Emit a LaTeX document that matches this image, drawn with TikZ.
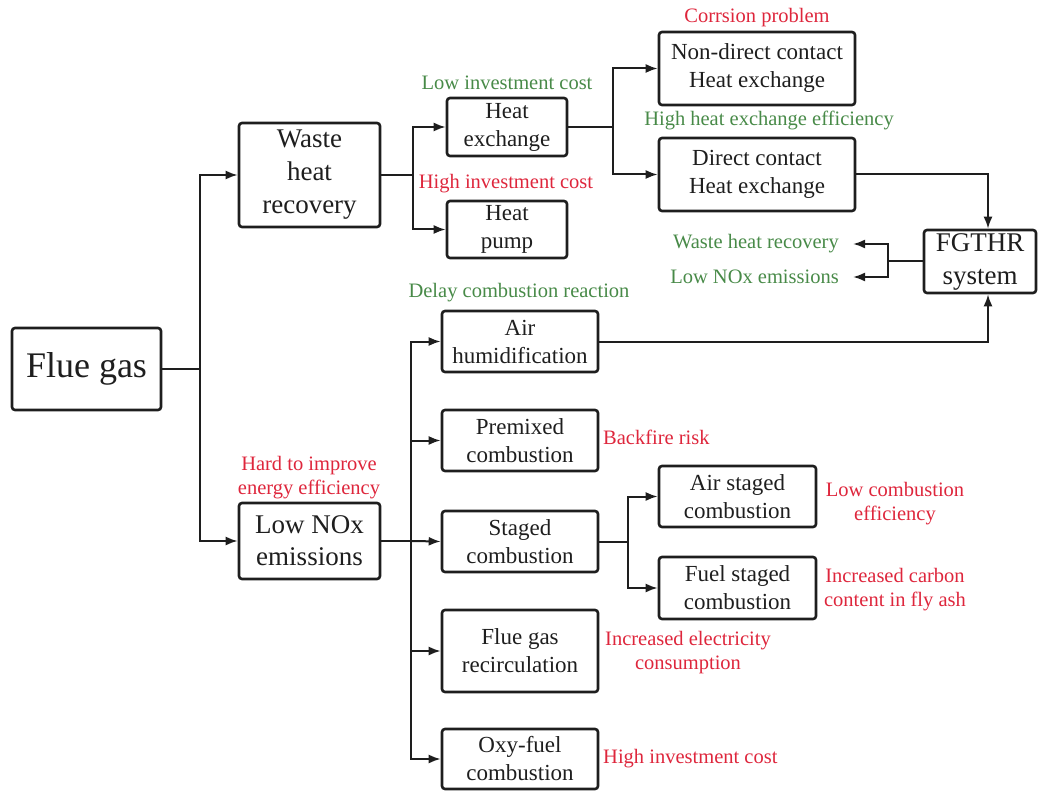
\documentclass[tikz,border=0pt]{standalone}
\usepackage{fontspec}
\setmainfont{LiberationSerif}[Extension=.ttf,UprightFont=*-Regular,BoldFont=*-Bold]
\usetikzlibrary{arrows.meta,calc}
\definecolor{lred}{RGB}{222,38,60}
\definecolor{lgreen}{RGB}{72,138,72}
\definecolor{ink}{RGB}{30,30,30}
\begin{document}
\begin{tikzpicture}[x=1pt,y=-1pt,
  box/.style={draw=ink,line width=2.6pt,rounded corners=3pt,inner sep=0pt,align=center,text=ink,
    font=\fontsize{23}{28}\selectfont},
  bigbox/.style={box,font=\fontsize{27}{33}\selectfont},
  lbl/.style={inner sep=0pt,align=center,font=\fontsize{20.5}{24}\selectfont},
  rl/.style={lbl,text=lred},
  gl/.style={lbl,text=lgreen},
  con/.style={draw=ink,line width=2pt},
  arr/.style={con,-{Latex[length=12pt,width=9pt]}}]
\useasboundingbox (0,0) rectangle (1040,791);
% boxes
\node[bigbox,minimum width=149pt,minimum height=82pt,font=\fontsize{36}{40}\selectfont] (flue) at (86.5,369) {Flue gas};
\node[bigbox,minimum width=141pt,minimum height=104pt] (whr) at (309.5,175) {Waste\\heat\\recovery};
\node[bigbox,minimum width=141pt,minimum height=76pt,font=\fontsize{27}{32}\selectfont] (lownox) at (309.5,541) {Low NOx\\emissions};
\node[box,minimum width=120pt,minimum height=58pt] (hx) at (507,127) {Heat\\exchange};
\node[box,minimum width=120pt,minimum height=57pt] (hp) at (507,229.5) {Heat\\pump};
\node[box,minimum width=196pt,minimum height=73pt] (nd) at (757,68.5) {Non-direct contact\\Heat exchange};
\node[box,minimum width=196pt,minimum height=73pt] (dc) at (757,174.5) {Direct contact\\Heat exchange};
\node[bigbox,minimum width=112pt,minimum height=63pt] (fgthr) at (980,261.5) {FGTHR\\system};
\node[box,minimum width=156pt,minimum height=61pt] (air) at (520,341.5) {Air\\humidification};
\node[box,minimum width=156pt,minimum height=61pt] (pre) at (520,440.5) {Premixed\\combustion};
\node[box,minimum width=156pt,minimum height=61pt] (stg) at (520,541.5) {Staged\\combustion};
\node[box,minimum width=156pt,minimum height=82pt] (fgr) at (520,651) {Flue gas\\recirculation};
\node[box,minimum width=156pt,minimum height=60pt] (oxy) at (520,759) {Oxy-fuel\\combustion};
\node[box,minimum width=157pt,minimum height=61pt] (ast) at (737.5,496.5) {Air staged\\combustion};
\node[box,minimum width=157pt,minimum height=62pt] (fst) at (737.5,588) {Fuel staged\\combustion};
% labels
\node[gl] (l1) at (507,83) {Low investment cost};
\node[rl] (l2) at (506,184) {High investment cost};
\node[rl] (l3) at (757,18) {Corrsion problem};
\node[gl] (l4) at (769,120) {High heat exchange efficiency};
\node[gl,anchor=east] (whrl) at (839,244) {Waste heat recovery};
\node[gl,anchor=east] (lnl) at (839,277) {Low NOx emissions};
\node[gl] (l5) at (519,293) {Delay combustion reaction};
\node[rl] (l6) at (309,477.5) {Hard to improve\\energy efficiency};
\node[rl,anchor=west] (l7) at (603,437) {Backfire risk};
\node[rl] (l8) at (688,653) {Increased electricity\\consumption};
\node[rl,anchor=west] (l9) at (603,759) {High investment cost};
\node[rl] (l10) at (895,504) {Low combustion\\efficiency};
\node[rl] (l11) at (895,590) {Increased carbon\\content in fly ash};
% junctions
\coordinate (j1) at (200,369);
\coordinate (j2) at (413,175);
\coordinate (j3) at (613,127);
\coordinate (j4) at (888,261.5);
\coordinate (j5) at (411,541);
\coordinate (j6) at (628,541.5);
% connectors
\draw[con] (flue.east) -- (j1);
\draw[arr] (j1) |- (whr.west);
\draw[arr] (j1) |- (lownox.west);
\draw[con] (whr.east) -- (j2);
\draw[arr] (j2) |- (hx.west);
\draw[arr] (j2) |- (hp.west);
\draw[con] (hx.east) -- (j3);
\draw[arr] (j3) |- (nd.west);
\draw[arr] (j3) |- (dc.west);
\draw[arr] (dc.east) -| ([xshift=8pt]fgthr.north);
\draw[arr] (air.east) -| ([xshift=8pt]fgthr.south);
\draw[con] (fgthr.west) -- (j4);
\draw[arr] (j4) |- ([xshift=14pt]whrl.east);
\draw[arr] (j4) |- ([xshift=14pt]lnl.east);
\draw[con] (lownox.east) -- (j5);
\draw[arr] (j5) |- (air.west);
\draw[arr] (j5) |- (pre.west);
\draw[arr] (j5) -- (stg.west);
\draw[arr] (j5) |- (fgr.west);
\draw[arr] (j5) |- (oxy.west);
\draw[con] (stg.east) -- (j6);
\draw[arr] (j6) |- (ast.west);
\draw[arr] (j6) |- (fst.west);
\end{tikzpicture}
\end{document}
